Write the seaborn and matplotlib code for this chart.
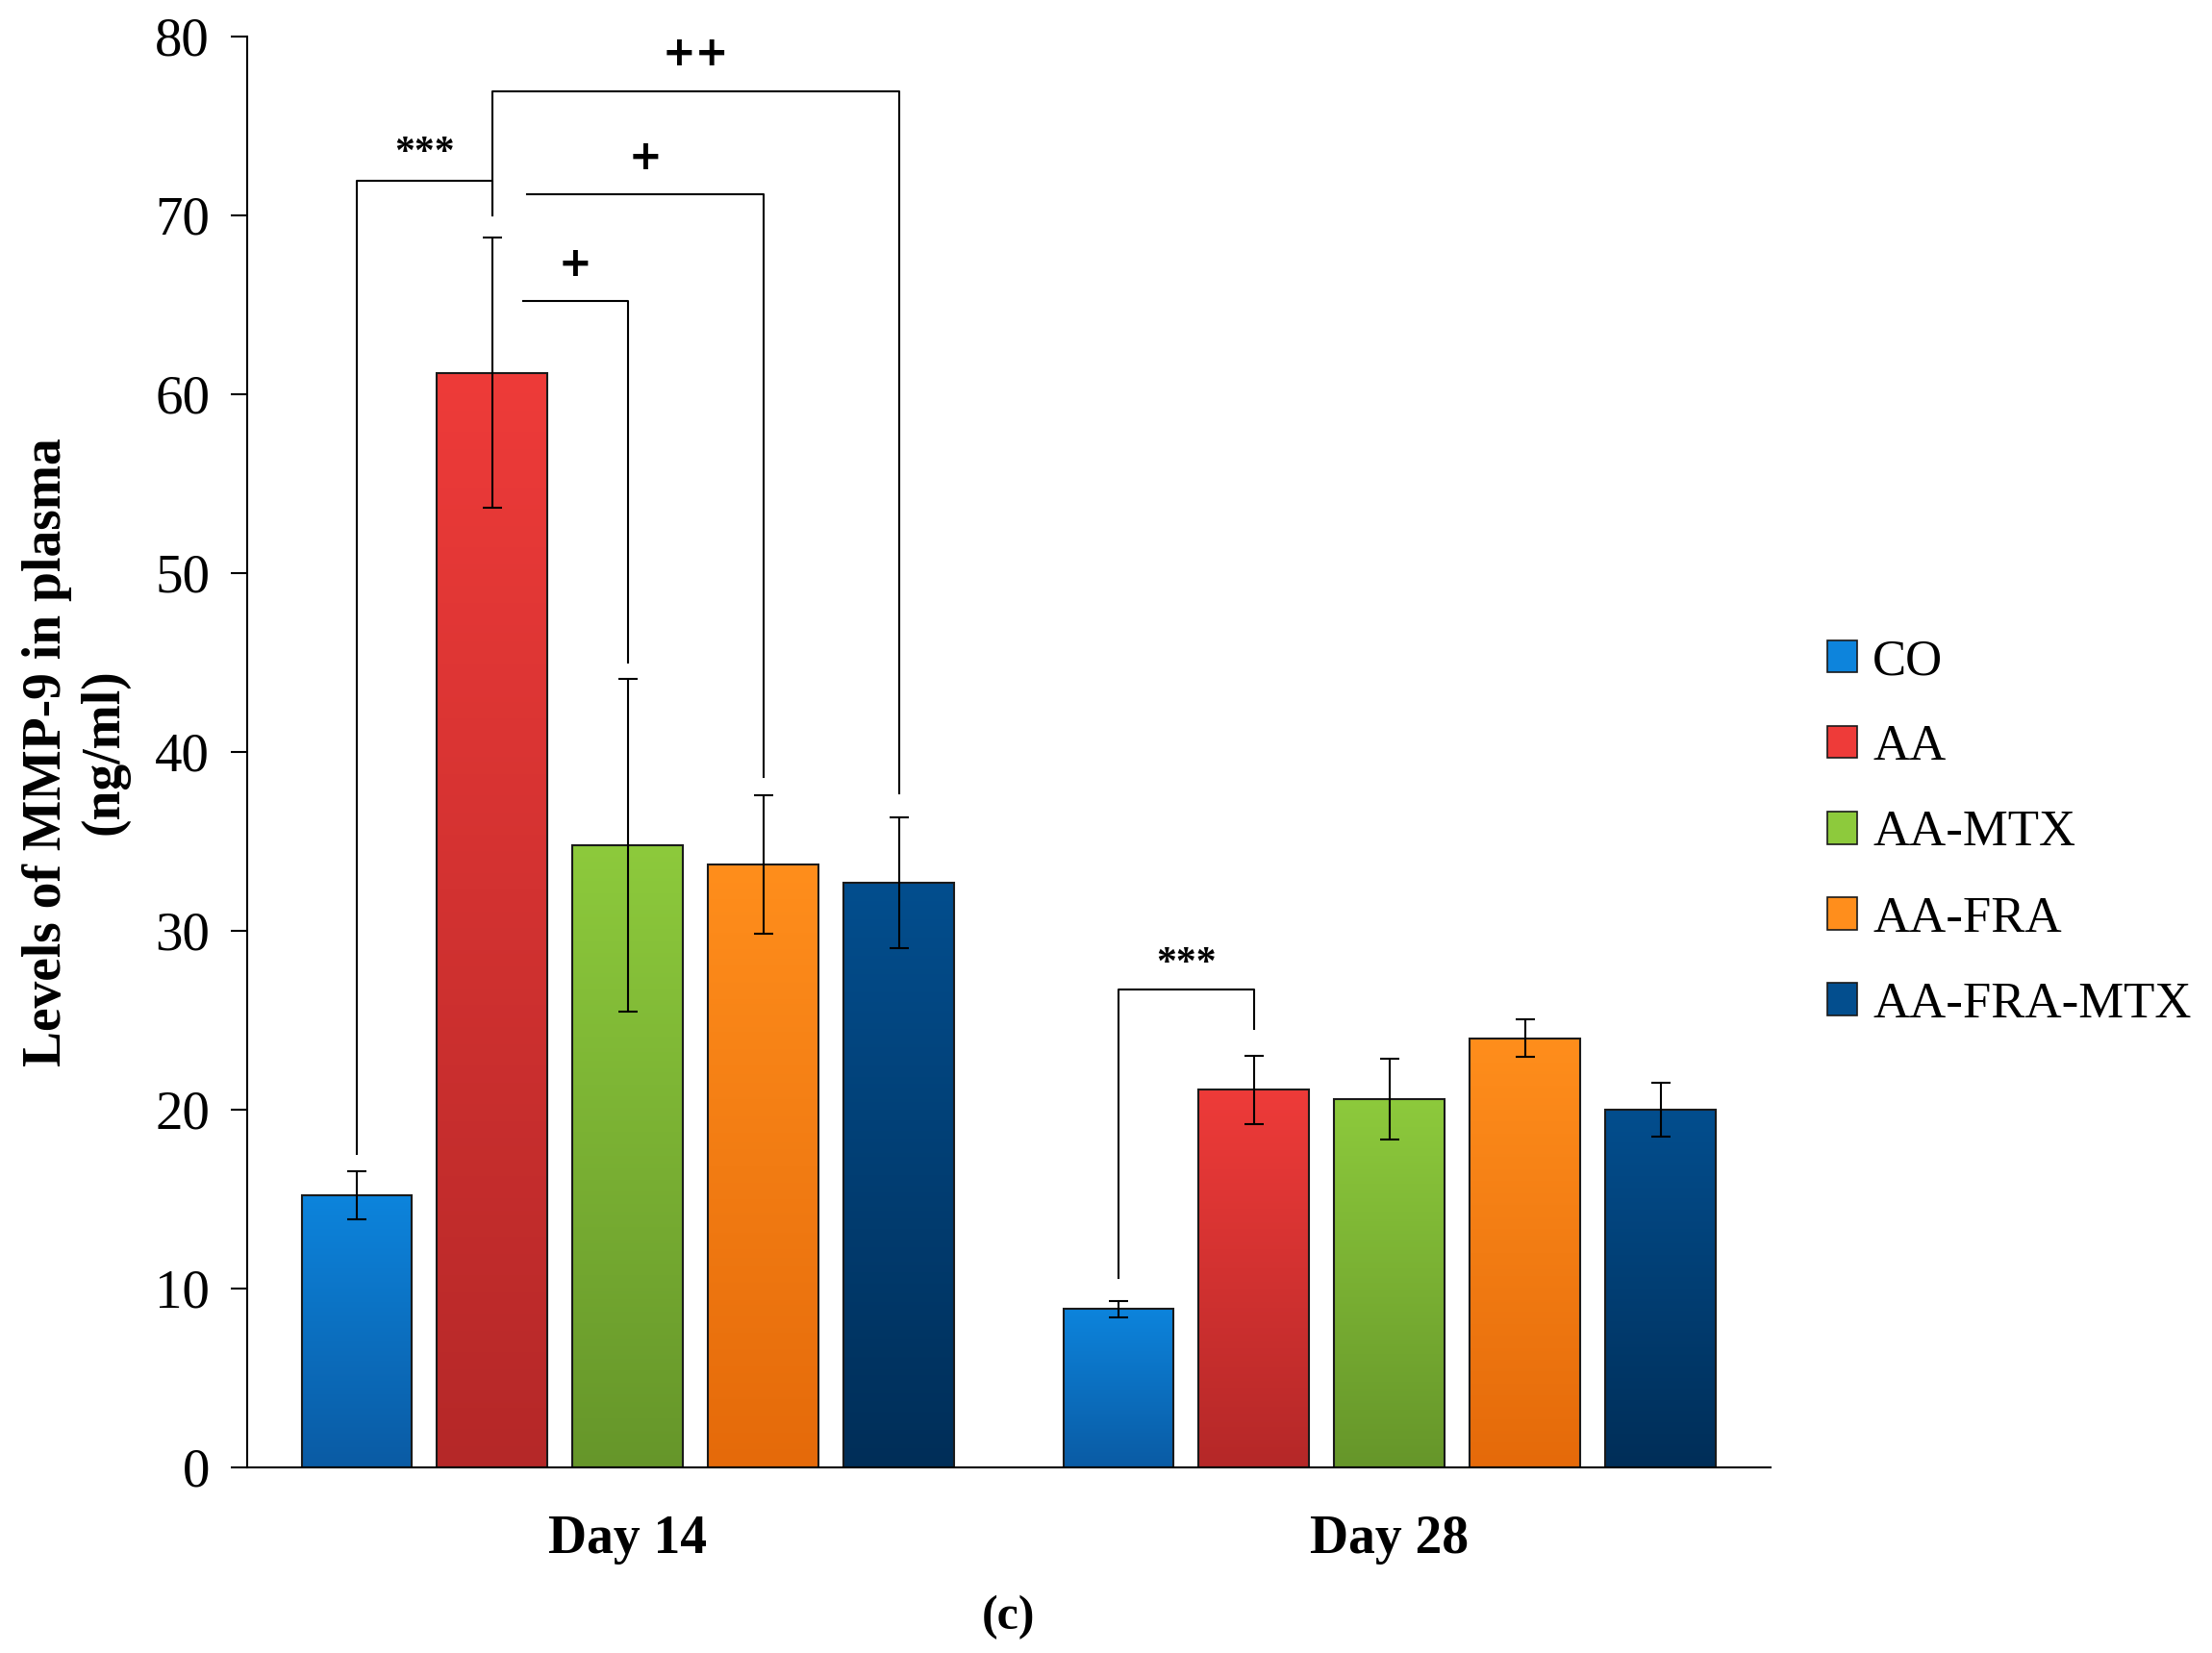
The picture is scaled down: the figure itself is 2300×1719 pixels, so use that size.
import matplotlib
matplotlib.use("Agg")
import matplotlib.pyplot as plt
import matplotlib.colors as mcolors
from matplotlib.patches import Patch
import numpy as np
import pandas as pd
import seaborn as sns

# Dados
dias = ["Day 14", "Day 28"]
grupos = ["CO", "AA", "AA-MTX", "AA-FRA", "AA-FRA-MTX"]
media_dia14 = [15.2, 61.2, 34.8, 33.7, 32.7]
erro_dia14 = [1.35, 7.55, 9.3, 3.85, 3.65]
media_dia28 = [8.85, 21.1, 20.6, 24.0, 20.0]
erro_dia28 = [0.45, 1.9, 2.25, 1.05, 1.5]

# Barras de significancia: dia, grupo esq., grupo dir., altura, fim perna esq., fim perna dir., texto, altura do texto
sig_dia = [0, 0, 0, 0, 1]
sig_esq = ["CO", "AA", "AA", "AA", "CO"]
sig_dir = ["AA", "AA-FRA-MTX", "AA-FRA", "AA-MTX", "AA"]
sig_altura = [71.9, 76.9, 71.2, 65.2, 26.7]
sig_perna_esq = [17.5, 70.0, 71.2, 65.2, 10.6]
sig_perna_dir = [70.0, 37.7, 38.6, 45.0, 24.5]
sig_texto = ["***", "++", "+", "+", "***"]
sig_texto_y = [72.4, 77.9, 72.1, 66.1, 27.1]
sig_desloc = [0.0, 0.0, 0.046, 0.04, 0.0]

cores_topo = ["#0d84dc", "#ee3b39", "#8dca3c", "#ff8e1c", "#034e8e"]
cores_base = ["#0a5ba4", "#b52828", "#66962a", "#e56a0a", "#002e58"]

df = pd.DataFrame({
    "Dia": [d for d in dias for _ in grupos],
    "Grupo": grupos * 2,
    "Valor": media_dia14 + media_dia28,
})

plt.rcParams["font.family"] = ["Liberation Serif", "DejaVu Serif"]
fig = plt.figure(figsize=(23, 17.19), dpi=100)
ax = fig.add_axes([0.1117, 0.1123, 0.6887, 0.8657])

sns.barplot(data=df, x="Dia", y="Valor", hue="Grupo", hue_order=grupos, order=dias,
            palette=cores_topo, width=0.89, gap=0.185, errorbar=None, legend=False,
            edgecolor="#1a1a1a", linewidth=1.5, ax=ax)

# Gradiente nas barras e barras de erro
erros = [erro_dia14, erro_dia28]
centros = {}
conteiners = list(ax.containers)[:len(grupos)]
for gi, cont in enumerate(conteiners):
    cmap = mcolors.LinearSegmentedColormap.from_list("g", [cores_base[gi], cores_topo[gi]])
    for di, barra in enumerate(cont):
        x0 = barra.get_x()
        w = barra.get_width()
        h = barra.get_height()
        grad = np.linspace(0, 1, 256).reshape(-1, 1)
        img = ax.imshow(grad, extent=[x0, x0 + w, 0, h], origin="lower", aspect="auto",
                        cmap=cmap, zorder=0.9)
        img.set_clip_path(barra)
        barra.set_facecolor((0, 0, 0, 0))
        barra.set_zorder(1)
        xc = x0 + w / 2
        centros[(di, grupos[gi])] = xc
        ax.errorbar(xc, h, yerr=erros[di][gi], color="black", lw=1.5, capsize=7,
                    capthick=1.5, zorder=3)

ax.set_xlim(-0.5, 1.5)
ax.set_ylim(0, 80)

# Brackets
for i in range(len(sig_dia)):
    xe = centros[(sig_dia[i], sig_esq[i])] + sig_desloc[i]
    xd = centros[(sig_dia[i], sig_dir[i])]
    ax.plot([xe, xe, xd, xd], [sig_perna_esq[i], sig_altura[i], sig_altura[i], sig_perna_dir[i]],
            color="black", lw=1.5, zorder=4)
    fam = ["DejaVu Sans"] if "+" in sig_texto[i] else ["Liberation Serif"]
    ax.text((xe + xd) / 2, sig_texto_y[i], sig_texto[i], ha="center", va="bottom",
            fontsize=30, fontweight="bold", family=fam)

# Eixos
sns.despine(ax=ax)
ax.spines["left"].set_linewidth(1.5)
ax.spines["bottom"].set_linewidth(1.5)
ax.set_yticks(range(0, 81, 10))
ax.tick_params(axis="y", labelsize=41, length=12, width=1.5, pad=16)
ax.tick_params(axis="x", length=0, pad=35)
for t in ax.get_xticklabels():
    t.set_fontsize(40)
    t.set_fontweight("bold")
ax.set_xlabel("")
ax.set_ylabel("Levels of MMP-9 in plasma\n(ng/ml)", fontsize=40, fontweight="bold")
ax.yaxis.set_label_coords(-0.077, 0.5)

# Legenda
handles = [Patch(facecolor=cores_topo[i], edgecolor="#1a1a1a", linewidth=1.2) for i in range(len(grupos))]
fig.legend(handles, grupos, loc="center left", bbox_to_anchor=(0.826, 0.496), frameon=False,
           fontsize=38, handlelength=0.6, handleheight=0.6, handletextpad=0.3,
           labelspacing=0.78, borderpad=0, borderaxespad=0)

fig.text(0.456, 0.008, "(c)", ha="center", va="bottom", fontsize=36, fontweight="bold")

fig.savefig("out.png", dpi=100)
